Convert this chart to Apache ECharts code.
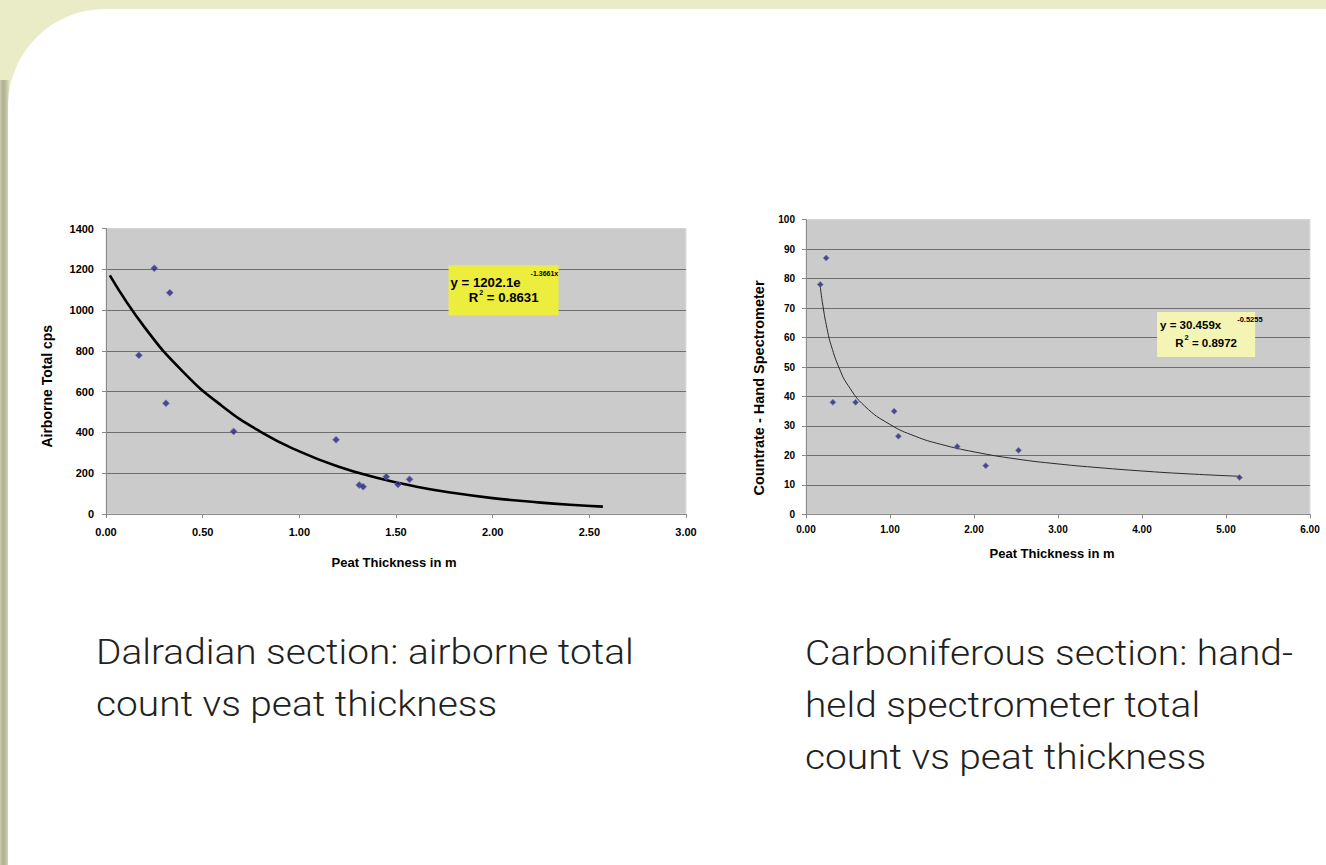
<!DOCTYPE html>
<html>
<head>
<meta charset="utf-8">
<script src="https://cdn.jsdelivr.net/npm/echarts@6.0.0/dist/echarts.min.js"></script>
<style>
  html, body { margin: 0; padding: 0; width: 1326px; height: 865px; overflow: hidden; }
  body { background: #eaecc8; position: relative; }
  #strip { position: absolute; left: 0; top: 80px; width: 9px; bottom: 0;
    background: linear-gradient(to right, #c9cbab 0%, #aeb093 35%, #b9bb9c 60%, #dcdebb 100%); }
  #panel { position: absolute; left: 8px; top: 9px; right: 0; bottom: 0; background: #ffffff;
    border-top-left-radius: 97px; }
  #chart { position: absolute; left: 0; top: 0; width: 1326px; height: 865px; }
</style>
</head>
<body>
<div id="strip"></div>
<div id="panel"></div>
<div id="chart"></div>
<script>
// ---- Data ----
const dalX = [0.17, 0.25, 0.33, 0.31, 0.66, 1.19, 1.31, 1.33, 1.45, 1.51, 1.57];
const dalY = [778, 1205, 1085, 543, 405, 364, 142, 134, 183, 145, 170];
const dalTrendX = [0.02, 0.2, 0.4, 0.6, 0.8, 1.0, 1.2, 1.4, 1.6, 1.8, 2.0, 2.2, 2.4, 2.57];
const dalTrendY = [1170, 915, 696, 530, 403, 307, 233, 178, 135, 103, 78, 60, 45, 36];

const carbX = [0.17, 0.24, 0.32, 0.59, 1.05, 1.10, 1.80, 2.14, 2.53, 5.16];
const carbY = [78, 87, 38, 38, 35, 26.5, 23, 16.5, 21.7, 12.5];
const carbTrendX = [0.17, 0.2, 0.25, 0.3, 0.4, 0.5, 0.7, 1.0, 1.3, 1.6, 2.0, 2.5, 3.0, 3.5, 4.0, 4.5, 5.16];
const carbTrendY = [77.3, 71.0, 63.1, 57.3, 49.3, 43.8, 36.7, 30.5, 26.5, 23.8, 21.2, 18.8, 17.1, 15.8, 14.7, 13.8, 12.9];

const dalXTicks = { min: 0, max: 3, interval: 0.5 };
const dalYTicks = { min: 0, max: 1400, interval: 200 };
const carbXTicks = { min: 0, max: 6, interval: 1 };
const carbYTicks = { min: 0, max: 100, interval: 10 };

const xTitle = 'Peat Thickness in m';
const dalYTitle = 'Airborne Total cps';
const carbYTitle = 'Countrate - Hand Spectrometer';

const dalEq = ['y = 1202.1e', '-1.3661x', 'R', '2', ' = 0.8631'];
const carbEq = ['y = 30.459x', '-0.5255', 'R', '2', ' = 0.8972'];
const dalBoxAt = [1.772, 1220];
const carbBoxAt = [4.18, 68.7];

const dalCaption = ['Dalradian section: airborne total', 'count vs peat thickness'];
const carbCaption = ['Carboniferous section: hand-', 'held spectrometer total', 'count vs peat thickness'];

const zip = (a, b) => a.map((v, i) => [v, b[i]]);

// ---- Chart ----
const chart = echarts.init(document.getElementById('chart'), null, { renderer: 'svg' });
const FONT = "'Liberation Sans', Arial, sans-serif";
const axisLineStyle = { color: '#8a8a8a', width: 1 };

function xAxis(gridIndex, t, fs, margin, nameGap, namePad) {
  return {
    type: 'value', gridIndex, min: t.min, max: t.max, interval: t.interval,
    name: xTitle, nameLocation: 'middle', nameGap,
    nameTextStyle: { fontFamily: FONT, fontWeight: 'bold', fontSize: 13, color: '#000', padding: namePad },
    axisLine: { show: true, lineStyle: axisLineStyle },
    axisTick: { show: true, length: 4, lineStyle: axisLineStyle },
    axisLabel: { fontFamily: FONT, fontWeight: 'bold', fontSize: fs, color: '#000', margin,
      formatter: v => v.toFixed(2) },
    splitLine: { show: false }
  };
}
function yAxis(gridIndex, t, name, fs, margin, nameGap, namePad, nameFs) {
  const n = Math.round((t.max - t.min) / t.interval);
  const colors = [];
  for (let i = 0; i <= n; i++) colors.push(i === n ? '#d4d4d4' : '#6e6e6e');
  return {
    type: 'value', gridIndex, min: t.min, max: t.max, interval: t.interval,
    name, nameLocation: 'middle', nameGap,
    nameTextStyle: { fontFamily: FONT, fontWeight: 'bold', fontSize: nameFs, color: '#000', padding: namePad },
    axisLine: { show: true, lineStyle: axisLineStyle },
    axisTick: { show: true, length: 4, lineStyle: axisLineStyle },
    axisLabel: { fontFamily: FONT, fontWeight: 'bold', fontSize: fs, color: '#000', margin,
      formatter: v => String(v) },
    splitLine: { show: true, lineStyle: { color: colors, width: 1 } }
  };
}

const dotStyle = { color: '#26267e', borderColor: '#7b7bbf', borderWidth: 0.8 };

const option = {
  animation: false,
  backgroundColor: 'transparent',
  grid: [
    { left: 106, top: 228.5, width: 580, height: 285.5, show: true, backgroundColor: '#cbcbcb', borderColor: '#dedede', borderWidth: 1 },
    { left: 806, top: 219.7, width: 504, height: 294.6, show: true, backgroundColor: '#cbcbcb', borderColor: '#dedede', borderWidth: 1 }
  ],
  xAxis: [
    xAxis(0, dalXTicks, 11, 12, 42, [0, 4, 0, 0]),
    xAxis(1, carbXTicks, 10, 10, 33, [0, 12, 0, 0])
  ],
  yAxis: [
    yAxis(0, dalYTicks, dalYTitle, 11, 12, 52, [0, 30, 0, 0], 14),
    yAxis(1, carbYTicks, carbYTitle, 10, 11, 40, [0, 42, 0, 0], 14.5)
  ],
  series: [
    { type: 'line', xAxisIndex: 0, yAxisIndex: 0, data: zip(dalTrendX, dalTrendY), smooth: true,
      showSymbol: false, lineStyle: { color: '#000', width: 2.6 }, z: 3 },
    { type: 'scatter', xAxisIndex: 0, yAxisIndex: 0, data: zip(dalX, dalY), symbol: 'diamond',
      symbolSize: 7, itemStyle: dotStyle, z: 4 },
    { type: 'line', xAxisIndex: 1, yAxisIndex: 1, data: zip(carbTrendX, carbTrendY), smooth: true,
      showSymbol: false, lineStyle: { color: '#2a2a2a', width: 1 }, z: 3 },
    { type: 'scatter', xAxisIndex: 1, yAxisIndex: 1, data: zip(carbX, carbY), symbol: 'diamond',
      symbolSize: 6, itemStyle: dotStyle, z: 4 }
  ]
};
chart.setOption(option);

const mctx = document.createElement('canvas').getContext('2d');
function textW(t, fs) {
  mctx.font = 'bold ' + fs + 'px ' + FONT;
  return mctx.measureText(t).width;
}
function txt(t, x, y, fs) {
  return { type: 'text', x, y, style: { text: t, fontFamily: FONT, fontWeight: 'bold', fontSize: fs,
    fill: '#000', align: 'left', verticalAlign: 'middle' } };
}

// lay: [mainX, mainY, supGap, supY, line2Y, mainFs, supFs]
function eqBox(gridIndex, at, w, h, fill, eq, lay) {
  const p = chart.convertToPixel({ gridIndex }, at);
  const [mx, my, gap, sy, l2y, fs, sfs] = lay;
  const w1 = textW(eq[0], fs);
  const wR = textW(eq[2], fs), w2 = textW(eq[3], sfs), w3 = textW(eq[4], fs);
  const l2x = (w - (wR + 1 + w2 + w3)) / 2;
  return {
    type: 'group', x: p[0], y: p[1], z: 100,
    children: [
      { type: 'rect', shape: { x: 0, y: 0, width: w, height: h }, style: { fill } },
      txt(eq[0], mx, my, fs),
      txt(eq[1], mx + w1 + gap, sy, sfs),
      txt(eq[2], l2x, l2y, fs),
      txt(eq[3], l2x + wR + 1, l2y - 5, sfs),
      txt(eq[4], l2x + wR + 1 + w2, l2y, fs)
    ]
  };
}

function caption(x, y0, lines) {
  return lines.map((t, i) => ({
    type: 'text', x, y: y0 + i * 52, z: 100, scaleX: 1.11,
    style: { text: t, fontFamily: "Roboto, 'Liberation Sans', sans-serif", fontWeight: 300,
      fontSize: 35, fill: '#231f20', verticalAlign: 'middle', align: 'left' }
  }));
}

chart.setOption({
  graphic: [
    eqBox(0, dalBoxAt, 110, 50, '#eded3e', dalEq, [2, 17, 10, 8, 32, 13.2, 7]),
    eqBox(1, carbBoxAt, 98, 45, '#f4f4b5', carbEq, [3, 13.5, 16, 8, 31, 11.5, 7.5]),
    ...caption(96, 652, dalCaption),
    ...caption(805, 653, carbCaption)
  ]
});
</script>
</body>
</html>
